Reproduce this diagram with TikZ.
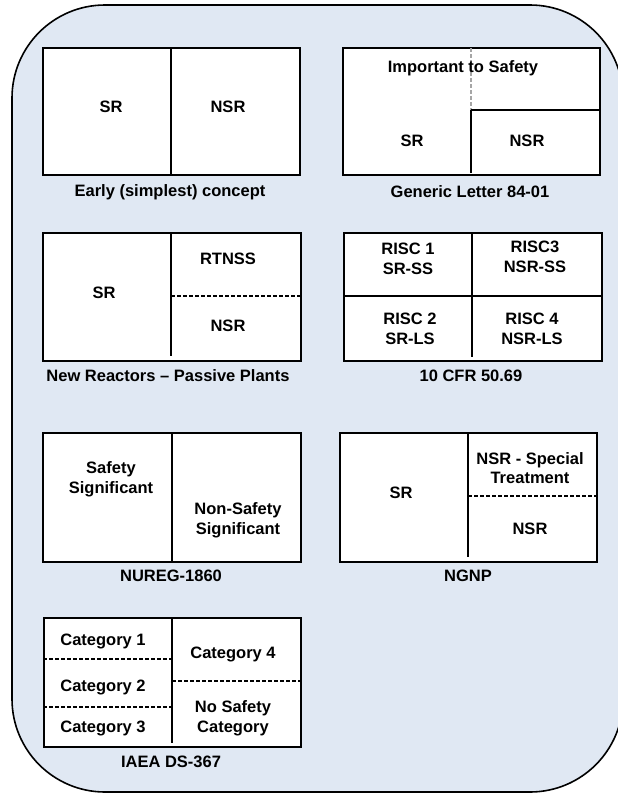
\documentclass[tikz,border=0pt]{standalone}
\usepackage{fontspec}
\setmainfont{Liberation Sans}
\definecolor{bgblue}{RGB}{224,232,243}
\begin{document}
\begin{tikzpicture}[x=1pt,y=-1pt,
  panel/.style={draw=black, line width=2pt, fill=white, anchor=north west, inner sep=0pt},
  divider/.style={draw=black, line width=1.2pt},
  dashdiv/.style={draw=black, line width=1.2pt, dash pattern=on 4pt off 2pt},
  greydash/.style={draw=black!35, line width=1.2pt, dash pattern=on 4pt off 2pt},
  txt/.style={font=\bfseries\fontsize{16.5}{19.8}\selectfont, align=center, inner sep=0pt, text=black}
]
\useasboundingbox (0,0) rectangle (618,793);
\draw[fill=bgblue, line width=1.6pt, rounded corners=93pt] (12,5) rectangle (623,792);

% Panel 1
\node[panel, minimum width=257pt, minimum height=127pt] (p1) at (42,47) {};
\draw[divider] (171,47) -- (171,174);
\node[txt] (p1sr) at (111,107) {SR};
\node[txt] (p1nsr) at (228,107) {NSR};
\node[txt] (p1cap) at (170,192) {Early (simplest) concept};

% Panel 2
\node[panel, minimum width=257pt, minimum height=127pt] (p2) at (342,47) {};
\draw[greydash] (471,48) -- (471,110);
\draw[divider] (471,110) -- (471,173);
\draw[divider] (471,110) -- (599,110);
\node[txt] (p2its) at (463,68) {Important to Safety};
\node[txt] (p2sr) at (412,141) {SR};
\node[txt] (p2nsr) at (527,141) {NSR};
\node[txt] (p2cap) at (470,192) {Generic Letter 84-01};

% Panel 3
\node[panel, minimum width=258pt, minimum height=128pt] (p3) at (42,232) {};
\draw[divider] (171,232) -- (171,356);
\draw[dashdiv] (171,296) -- (300,296);
\node[txt] (p3sr) at (104,293) {SR};
\node[txt] (p3rt) at (228,259) {RTNSS};
\node[txt] (p3nsr) at (228,326) {NSR};
\node[txt] (p3cap) at (168,376) {New Reactors – Passive Plants};

% Panel 4
\node[panel, minimum width=258pt, minimum height=128pt] (p4) at (343,232) {};
\draw[divider] (472,232) -- (472,357);
\draw[divider] (343,296) -- (601,296);
\node[txt] (p4a) at (408,259) {RISC 1\\SR-SS};
\node[txt] (p4b) at (535,257) {RISC3\\NSR-SS};
\node[txt] (p4c) at (410,329) {RISC 2\\SR-LS};
\node[txt] (p4d) at (532,329) {RISC 4\\NSR-LS};
\node[txt] (p4cap) at (471,376) {10 CFR 50.69};

% Panel 5
\node[panel, minimum width=258pt, minimum height=129pt] (p5) at (42,432) {};
\draw[divider] (172,432) -- (172,561);
\node[txt] (p5ss) at (111,479) {Safety\\Significant};
\node[txt] (p5nss) at (238,520) {Non-Safety\\Significant};
\node[txt] (p5cap) at (171,576) {NUREG-1860};

% Panel 6
\node[panel, minimum width=257pt, minimum height=129pt] (p6) at (339,432) {};
\draw[divider] (468,432) -- (468,557);
\draw[dashdiv] (468,496) -- (596,496);
\node[txt] (p6sr) at (401,493) {SR};
\node[txt] (p6st) at (530,468) {NSR - Special\\Treatment};
\node[txt] (p6nsr) at (530,529) {NSR};
\node[txt] (p6cap) at (468,576) {NGNP};

% Panel 7
\node[panel, minimum width=257pt, minimum height=129pt] (p7) at (43,617) {};
\draw[divider] (172,617) -- (172,743);
\draw[dashdiv] (43,659) -- (172,659);
\draw[dashdiv] (43,707) -- (172,707);
\draw[dashdiv] (172,681) -- (300,681);
\node[txt] (p7c1) at (103,641) {Category 1};
\node[txt] (p7c2) at (103,687) {Category 2};
\node[txt] (p7c3) at (103,728) {Category 3};
\node[txt] (p7c4) at (233,654) {Category 4};
\node[txt] (p7ns) at (233,718) {No Safety\\Category};
\node[txt] (p7cap) at (171,762) {IAEA DS-367};
\end{tikzpicture}
\end{document}
